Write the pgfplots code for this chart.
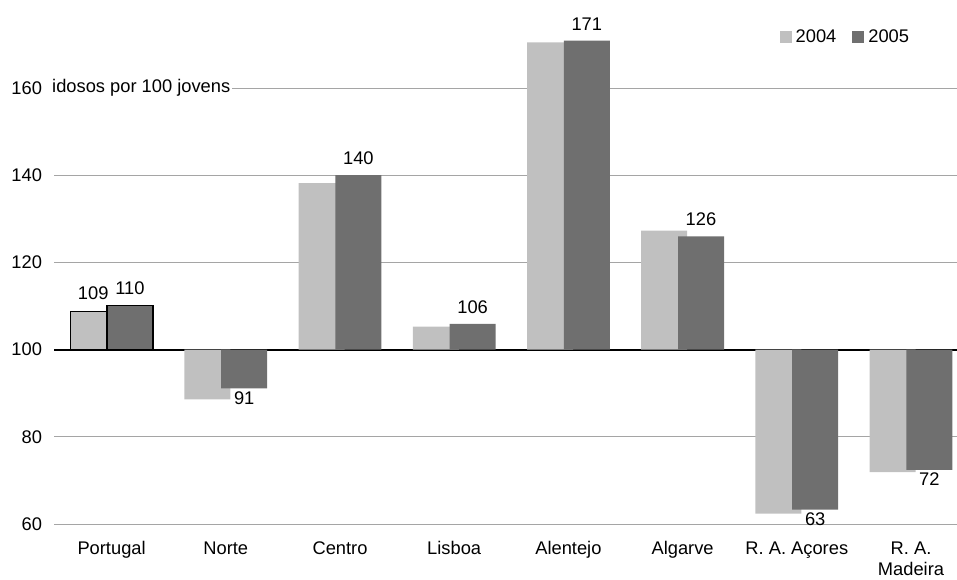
\documentclass[border=0pt]{standalone}
\usepackage{pgfplots}
\pgfplotsset{compat=1.18}
\usepackage{pgfplotstable}
\usepackage{fontspec}
\setmainfont{Liberation Sans}
\newcommand\cf{\fontsize{18.3}{21}\selectfont}
\definecolor{cA}{RGB}{192,192,192}
\definecolor{cB}{RGB}{111,111,111}
\definecolor{gridc}{RGB}{165,165,165}
\pgfplotsset{sq/.style={legend image code/.code={\fill[##1] (0pt,-6pt) rectangle (12pt,6pt);}}}

% values (idosos por 100 jovens)
\pgfplotstableread{
x v04 v05
0 108.7 110.1
}\portugal
\pgfplotstableread{
x v04 v05
1 88.6 91.1
2 138.2 140.0
3 105.3 105.9
4 170.5 170.9
5 127.3 126.0
6 62.4 63.3
7 71.9 72.4
}\regioes
\pgfplotstableread{
x v05
2 140.0
3 105.9
4 170.9
5 126.0
}\pos
\pgfplotstableread{
x v05
1 91.1
6 63.3
7 72.4
}\neg

\begin{document}
\begin{tikzpicture}
\begin{axis}[
  scale only axis, width=913.6pt, height=524pt,
  xmin=-0.5, xmax=7.5, ymin=-40, ymax=80.2,
  ybar, bar width=46pt,
  xtick={0,...,7},
  xticklabels={\strut Portugal,\strut Norte,\strut Centro,\strut Lisboa,\strut Alentejo,\strut Algarve,\strut R. A. Açores,{\strut R. A.\\Madeira}},
  ytick={-40,-20,20,40,60}, yticklabels={60,80,120,140,160},
  extra y ticks={0}, extra y tick labels={100},
  extra y tick style={grid style={black, line width=2pt}},
  ymajorgrids, grid style={gridc, line width=1pt},
  axis line style={draw=none}, major tick length=0pt,
  tick label style={font=\cf},
  xticklabel style={align=center, anchor=north, yshift=-12.5pt},
  yticklabel style={xshift=-9pt},
  /pgf/number format/assume math mode=true,
  legend style={at={(0.7935,0.929)}, anchor=west, draw=none, fill=none,
    inner sep=0pt, font=\cf, nodes={inner xsep=4pt},
    /tikz/every even column/.append style={column sep=12pt}},
  legend columns=2, legend cell align=left,
  clip=false,
]
\coordinate (o) at (rel axis cs:0,0);
\addplot[fill=cA, draw=none, bar shift=-18.4pt, sq] table[x=x, y expr=\thisrow{v04}-100] {\regioes};
\addlegendentry{2004}
\addplot[fill=cB, draw=none, bar shift=18.4pt, sq, point meta=explicit,
  nodes near coords={\pgfmathprintnumber[fixed,precision=0]{\pgfplotspointmeta}},
  every node near coord/.append style={font=\cf, text=black, anchor=south, inner ysep=10pt}]
  table[x=x, y expr=\thisrow{v05}-100, meta=v05] {\pos};
\addlegendentry{2005}
\addplot[fill=cB, draw=none, bar shift=18.4pt, forget plot, point meta=explicit,
  nodes near coords={\pgfmathprintnumber[fixed,precision=0]{\pgfplotspointmeta}},
  every node near coord/.append style={font=\cf, text=black, anchor=north, inner ysep=3pt}]
  table[x=x, y expr=\thisrow{v05}-100, meta=v05] {\neg};
\addplot[fill=cA, draw=black, line width=1.2pt, bar shift=-18.4pt, forget plot, point meta=explicit,
  nodes near coords={\pgfmathprintnumber[fixed,precision=0]{\pgfplotspointmeta}},
  every node near coord/.append style={font=\cf, text=black, anchor=south, inner ysep=11pt}]
  table[x=x, y expr=\thisrow{v04}-100, meta=v04] {\portugal};
\addplot[fill=cB, draw=black, line width=1.2pt, bar shift=18.4pt, forget plot, point meta=explicit,
  nodes near coords={\pgfmathprintnumber[fixed,precision=0]{\pgfplotspointmeta}},
  every node near coord/.append style={font=\cf, text=black, anchor=south, inner ysep=10pt}]
  table[x=x, y expr=\thisrow{v05}-100, meta=v05] {\portugal};
\node[anchor=west, fill=white, inner xsep=1.5pt, inner ysep=3pt, xshift=-4pt, font=\cf]
  at (axis cs:-0.5,60) {idosos por 100 jovens};
\end{axis}
\pgfresetboundingbox
\path ([shift={(-54.5pt,-55pt)}]o) rectangle ([shift={(902.5pt,524pt)}]o);
\end{tikzpicture}
\end{document}
